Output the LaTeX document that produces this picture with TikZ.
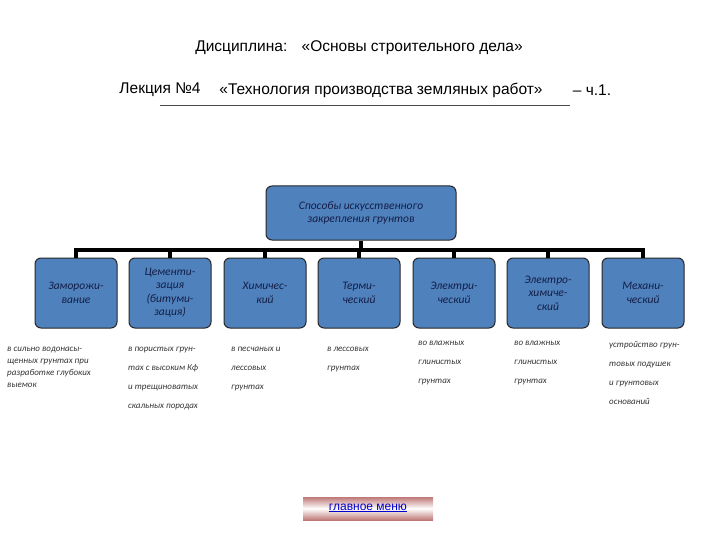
\documentclass[tikz,border=0pt]{standalone}
\usepackage{fontspec}
\setmainfont{Liberation Sans}
\newfontfamily\carlfont{Carlito}
\begin{document}
\begin{tikzpicture}[x=1pt,y=-1pt,
  box/.style={draw=black!85,line width=1pt,fill={rgb,255:red,79;green,129;blue,189},rounded corners=6pt,
     minimum width=82pt,minimum height=70pt,align=center,font=\carlfont\itshape\fontsize{11.5}{13.5}\selectfont,text={rgb,255:red,20;green,30;blue,70},inner sep=1pt},
  desc/.style={anchor=north west,align=left,font=\carlfont\itshape\fontsize{9}{12}\selectfont,text=black!80,inner sep=0pt},
  ttl/.style={font=\fontsize{15.5}{18}\selectfont},
  bar/.style={line width=4pt}]
\useasboundingbox (0,0) rectangle (720,540);
\node[ttl] (t1) at (359,48) {Дисциплина: \ \ «Основы строительного дела»};
\node[ttl] (t2) at (160,90) {Лекция №4};
\node[ttl] (t3) at (381,90) {«Технология производства земляных работ»};
\node[ttl] (t4) at (592,90) {– ч.1.};
\draw[black!70] (160,105) -- (570,105);
\node[box,minimum width=190pt,minimum height=54pt] (top) at (361,213) {Способы искусственного\\закрепления грунтов};
\node[box] (a) at (76,293) {Заморожи-\\вание};
\node[box] (b) at (170,293) {Цементи-\\зация\\(битуми-\\зация)};
\node[box] (c) at (265,293) {Химичес-\\кий};
\node[box] (d) at (359,293) {Терми-\\ческий};
\node[box] (e) at (454,293) {Электри-\\ческий};
\node[box] (f) at (548,293) {Электро-\\химиче-\\ский};
\node[box] (g) at (643,293) {Механи-\\ческий};
\coordinate (bl) at (76,250); \coordinate (br) at (643,250);
\draw[bar] (top.south) -- (361,250);
\draw[bar] ([xshift=-2pt]bl) -- ([xshift=2pt]br);
\foreach \n in {a,b,c,d,e,f,g} \draw[bar] (\n.north |- bl) -- (\n.north);
\node[desc] (da) at (7,347) {в сильно водонасы-\\щенных грунтах при\\разработке глубоких\\выемок};
\node[desc] (db) at (128,347) {в пористых грун-\\[7pt]тах с высоким Кф\\[7pt]и трещиноватых\\[7pt]скальных породах};
\node[desc] (dc) at (231,347) {в песчаных и\\[7pt]лессовых\\[7pt]грунтах};
\node[desc] (dd) at (327,347) {в лессовых\\[7pt]грунтах};
\node[desc] (de) at (418,341) {во влажных\\[7pt]глинистых\\[7pt]грунтах};
\node[desc] (df) at (514,341) {во влажных\\[7pt]глинистых\\[7pt]грунтах};
\node[desc] (dg) at (609,341) {устройство грун-\\[7pt]товых подушек\\[7pt]и грунтовых\\[7pt]оснований};
\shade[top color={rgb,255:red,190;green,120;blue,120},bottom color={rgb,255:red,190;green,120;blue,120},middle color=white] (303,497) rectangle (433,520);
\node[font=\fontsize{12}{14}\selectfont,text=blue!80!black] (menu) at (368,508) {\underline{главное меню}};
\end{tikzpicture}
\end{document}
